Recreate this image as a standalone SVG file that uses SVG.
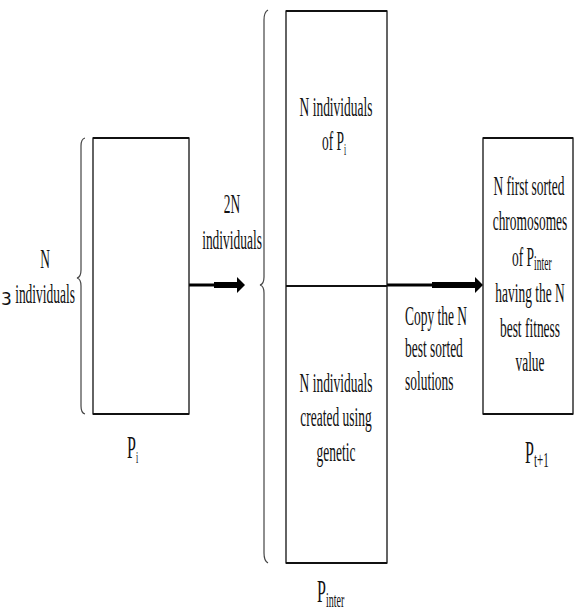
<svg xmlns="http://www.w3.org/2000/svg" width="575" height="613" viewBox="0 0 575 613">
<style>
.box{fill:#fff;stroke:#111;stroke-width:1.3}
.edge{stroke:#111;stroke-width:2.2}
.brace{fill:none;stroke:#444;stroke-width:1.2}
.t{font-family:"Liberation Serif","Times New Roman",serif;font-size:28px;fill:#111}
.lab{font-family:"Liberation Serif","Times New Roman",serif;font-size:32px;fill:#111}
.shaft{stroke:#000}
</style>
<rect width="575" height="613" fill="#fff"/>
<g id="connectors">
  <path class="brace" d="M85,138 Q81,139 81,146 L81,270 Q81,277 77,278 Q81,279 81,286 L81,406 Q81,413 85,414"/>
  <path class="brace" d="M268,10 Q264,12 264,20 L264,277 Q264,284 260,285 Q264,286 264,293 L264,553 Q264,561 268,563"/>
  <line class="shaft" x1="189" y1="285" x2="215" y2="285" stroke-width="3"/>
  <line class="shaft" x1="214" y1="285" x2="238" y2="285" stroke-width="6"/>
  <polygon points="237,277 245,285 237,293" fill="#000"/>
  <line class="shaft" x1="387" y1="285" x2="433" y2="285" stroke-width="3"/>
  <line class="shaft" x1="432" y1="285" x2="476" y2="285" stroke-width="6"/>
  <polygon points="475,277 483,285 475,293" fill="#000"/>
</g>
<g id="left-label">
  <text class="t" transform="translate(45,268) scale(0.48,1)" text-anchor="middle">N</text>
  <text x="1" y="305" font-family="DejaVu Sans, sans-serif" font-size="17" fill="#111">3</text>
  <text class="t" transform="translate(45,303) scale(0.48,1)" text-anchor="middle">individuals</text>
</g>
<g id="node-pi">
  <rect class="box" x="93" y="138" width="96" height="276"/>
  <line class="edge" x1="93" y1="138" x2="189" y2="138"/>
  <line class="edge" x1="93" y1="414" x2="189" y2="414"/>
  <text class="lab" transform="translate(127,458) scale(0.5,1)">P<tspan font-size="16" dy="5">i</tspan></text>
</g>
<g id="mid-label">
  <text class="t" transform="translate(232,213) scale(0.48,1)" text-anchor="middle">2N</text>
  <text class="t" transform="translate(232,249) scale(0.48,1)" text-anchor="middle">individuals</text>
</g>
<g id="node-pinter">
  <rect class="box" x="286" y="11" width="101" height="552"/>
  <line class="edge" x1="286" y1="11" x2="387" y2="11"/>
  <line class="edge" x1="286" y1="286" x2="387" y2="286"/>
  <line class="edge" x1="286" y1="563" x2="387" y2="563"/>
  <text class="t" transform="translate(336,116) scale(0.48,1)" text-anchor="middle">N individuals</text>
  <text class="t" transform="translate(322,150) scale(0.48,1)">of P<tspan font-size="16" dy="5">i</tspan></text>
  <text class="t" transform="translate(336,392) scale(0.48,1)" text-anchor="middle">N individuals</text>
  <text class="t" transform="translate(336,426) scale(0.48,1)" text-anchor="middle">created using</text>
  <text class="t" transform="translate(336,461) scale(0.48,1)" text-anchor="middle">genetic</text>
  <text class="lab" transform="translate(317,602) scale(0.5,1)">P<tspan font-size="20" dy="5">inter</tspan></text>
</g>
<g id="copy-label">
  <text class="t" transform="translate(405,325) scale(0.48,1)">Copy the N</text>
  <text class="t" transform="translate(405,357) scale(0.48,1)">best sorted</text>
  <text class="t" transform="translate(405,390) scale(0.48,1)">solutions</text>
</g>
<g id="node-pt1">
  <rect class="box" x="483" y="138" width="90" height="276"/>
  <line class="edge" x1="483" y1="138" x2="573" y2="138"/>
  <line class="edge" x1="483" y1="414" x2="573" y2="414"/>
  <text class="t" transform="translate(529,195) scale(0.48,1)" text-anchor="middle">N first sorted</text>
  <text class="t" transform="translate(530,230) scale(0.48,1)" text-anchor="middle">chromosomes</text>
  <text class="t" transform="translate(512,266) scale(0.48,1)">of P<tspan font-size="20" dy="4">inter</tspan></text>
  <text class="t" transform="translate(530,302) scale(0.48,1)" text-anchor="middle">having the N</text>
  <text class="t" transform="translate(530,337) scale(0.48,1)" text-anchor="middle">best fitness</text>
  <text class="t" transform="translate(530,371) scale(0.48,1)" text-anchor="middle">value</text>
  <text class="lab" transform="translate(525,463) scale(0.5,1)">P<tspan font-size="22" dy="4">t+1</tspan></text>
</g>
</svg>
